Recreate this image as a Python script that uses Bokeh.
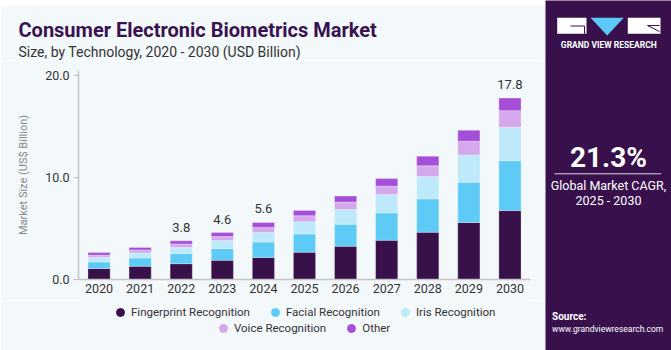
from bokeh.plotting import figure
from bokeh.models import (ColumnDataSource, FactorRange, Range1d, FixedTicker,
                          PrintfTickFormatter, Legend, LegendItem, Title)
from bokeh.layouts import row, column
from bokeh.embed import file_html
from bokeh.resources import INLINE
from bokeh.core.properties import value

# ---------------- data ----------------
years = ["2020", "2021", "2022", "2023", "2024", "2025", "2026", "2027", "2028", "2029", "2030"]
fingerprint = [1.08, 1.30, 1.55, 1.89, 2.17, 2.68, 3.27, 3.85, 4.64, 5.59, 6.76]
facial      = [0.65, 0.81, 1.00, 1.15, 1.50, 1.80, 2.16, 2.68, 3.27, 3.95, 4.90]
iris        = [0.46, 0.49, 0.58, 0.78, 0.95, 1.18, 1.44, 1.80, 2.19, 2.68, 3.27]
voice       = [0.20, 0.29, 0.36, 0.39, 0.49, 0.59, 0.72, 0.82, 1.05, 1.34, 1.63]
other       = [0.26, 0.26, 0.31, 0.39, 0.49, 0.52, 0.59, 0.75, 0.95, 1.08, 1.24]
techs = ["Fingerprint Recognition", "Facial Recognition", "Iris Recognition",
         "Voice Recognition", "Other"]
label_years = ["2022", "2023", "2024", "2030"]
label_texts = ["3.8", "4.6", "5.6", "17.8"]
y_ticks = [0, 10, 20]

colors = ["#38104A", "#5DCBF6", "#BEE9FA", "#D4A8EC", "#A54FD8"]
BG = "#F3F8FB"
PANEL = "#38114C"
STRIPE = "#5BC8F5"
FONT = "Roboto"

COMMON = dict(output_backend="svg", toolbar_location=None,
              background_fill_color=BG, border_fill_color=BG, outline_line_color=None)

# ---------------- top stripe ----------------
s0 = figure(width=545, height=5, output_backend="svg", toolbar_location=None, min_border=0,
            x_axis_location=None, y_axis_location=None, background_fill_color=STRIPE,
            border_fill_color=STRIPE, outline_line_color=None)

# ---------------- header (titles) ----------------
h = figure(width=545, height=55, x_range=Range1d(0, 1), y_range=Range1d(0, 1),
           min_border_left=78, min_border_right=15, min_border_top=54, min_border_bottom=0,
           x_axis_location=None, y_axis_location=None, **COMMON)
h.grid.visible = False
sub = Title(text="Size, by Technology, 2020 - 2030 (USD Billion)", align="left", offset=-60,
            text_font_size="14px", text_font_style="normal", text_color="#333333",
            text_font=FONT, standoff=0)
main = Title(text="Consumer Electronic Biometrics Market", align="left", offset=-60,
             text_font_size="20px", text_font_style="bold", text_color="#3A1250",
             text_font=FONT, standoff=0)
h.add_layout(sub, "above")
h.add_layout(main, "above")

# ---------------- main chart ----------------
src = ColumnDataSource(dict(year=years, fingerprint=fingerprint, facial=facial,
                            iris=iris, voice=voice, other=other))
keys = ["fingerprint", "facial", "iris", "voice", "other"]

p = figure(width=545, height=240, x_range=FactorRange(*years), y_range=Range1d(0, 20.5),
           min_border_left=78, min_border_right=15, min_border_top=10, min_border_bottom=21,
           **COMMON)

p.vbar_stack(keys, x="year", width=0.54, fill_color=colors, line_color="white",
             line_alpha=0.5, line_width=0.6, source=src)

totals = [sum(v) for v in zip(fingerprint, facial, iris, voice, other)]
label_y = [totals[years.index(y)] for y in label_years]
p.text(x=label_years, y=label_y, text=label_texts, text_align="center",
       text_baseline="bottom", y_offset=-9, text_font_size="13px",
       text_color="#333333", text_font=value(FONT))

p.xgrid.visible = False
p.ygrid.visible = False
p.yaxis.ticker = FixedTicker(ticks=y_ticks)
p.yaxis.formatter = PrintfTickFormatter(format="%.1f")
p.yaxis.axis_label = "Market Size (US$ Billion)"
p.yaxis.axis_label_text_font_style = "normal"
p.yaxis.axis_label_text_font_size = "11px"
p.yaxis.axis_label_text_color = "#8a8a8a"
p.yaxis.axis_label_text_font = FONT
p.yaxis.axis_label_standoff = 12
p.yaxis.major_tick_out = 5
p.yaxis.major_tick_in = 0
p.yaxis.minor_tick_out = 0
p.yaxis.minor_tick_in = 0
p.yaxis.major_label_standoff = 4
p.axis.axis_line_color = "#C4C4C4"
p.axis.axis_line_width = 1.5
p.axis.major_tick_line_color = "#C4C4C4"
p.axis.major_label_text_font_size = "12.5px"
p.axis.major_label_text_color = "#333333"
p.axis.major_label_text_font = FONT
p.xaxis.major_tick_out = 0
p.xaxis.major_tick_in = 0
p.xaxis.major_label_standoff = 4

# ---------------- legend strip ----------------
L = figure(width=545, height=50, x_range=Range1d(0, 1), y_range=Range1d(0, 1),
           min_border_left=78, min_border_right=15, min_border_top=0, min_border_bottom=0,
           x_axis_location=None, y_axis_location=None, **COMMON)
L.grid.visible = False
items = []
for name, col in zip(techs, colors):
    r = L.scatter(x=[float("nan")], y=[float("nan")], marker="circle", size=8,
                  fill_color=col, line_color=col)
    items.append(LegendItem(label=name, renderers=[r]))


def make_legend(its, loc):
    return Legend(items=its, location=loc, orientation="horizontal",
                  glyph_width=20, glyph_height=20, label_height=20, label_standoff=1,
                  spacing=15, padding=0, margin=0, border_line_color=None,
                  background_fill_alpha=0, label_text_font_size="11.5px",
                  label_text_color="#333333", label_text_font=FONT)


L.add_layout(make_legend(items[:3], (32, 28)), "center")
L.add_layout(make_legend(items[3:], (135, 12)), "center")

# ---------------- right panel ----------------
q = figure(width=126, height=350, x_range=Range1d(545, 671), y_range=Range1d(350, 0),
           output_backend="svg", toolbar_location=None, min_border=0,
           x_axis_location=None, y_axis_location=None, background_fill_color=PANEL,
           border_fill_color=PANEL, outline_line_color=None)
q.grid.visible = False
q.quad(left=[556.7, 627.3], right=[586, 660], top=[17.3, 17.3], bottom=[33.3, 33.3],
       fill_color="white", line_color=None)
q.patch([590, 623.3, 606.7], [17.3, 17.3, 35], fill_color=STRIPE, line_color=None)
q.multi_line([[570, 584, 584], [659, 647, 659]], [[25.5, 25.5, 33.3], [25, 25, 31]],
             line_color=PANEL, line_width=1)
q.text(x=[608.3], y=[44.5], text=["GRAND VIEW RESEARCH"], text_align="center",
       text_baseline="middle", text_font_size="8.5px", text_font_style="bold",
       text_color="white", text_font=value(FONT))
q.text(x=[608], y=[157], text=["21.3%"], text_align="center", text_baseline="middle",
       text_font_size="28px", text_font_style="bold", text_color="white",
       text_font=value(FONT))
q.segment(x0=[554], x1=[660.7], y0=[173.3], y1=[173.3], line_color="#d9d4dd", line_width=1)
q.text(x=[608, 608], y=[185, 200], text=["Global Market CAGR,", "2025 - 2030"],
       text_align="center", text_baseline="middle", text_font_size="12.5px",
       text_color="white", text_font=value(FONT))
q.text(x=[551.5], y=[316], text=["Source:"], text_align="left", text_baseline="middle",
       text_font_size="10px", text_font_style="bold", text_color="white",
       text_font=value(FONT))
q.text(x=[551.5], y=[328.5], text=["www.grandviewresearch.com"], text_align="left",
       text_baseline="middle", text_font_size="8.5px", text_color="white",
       text_font=value(FONT))

layout = row(column(s0, h, p, L), q)
open("out.html", "w").write(file_html(layout, INLINE))
